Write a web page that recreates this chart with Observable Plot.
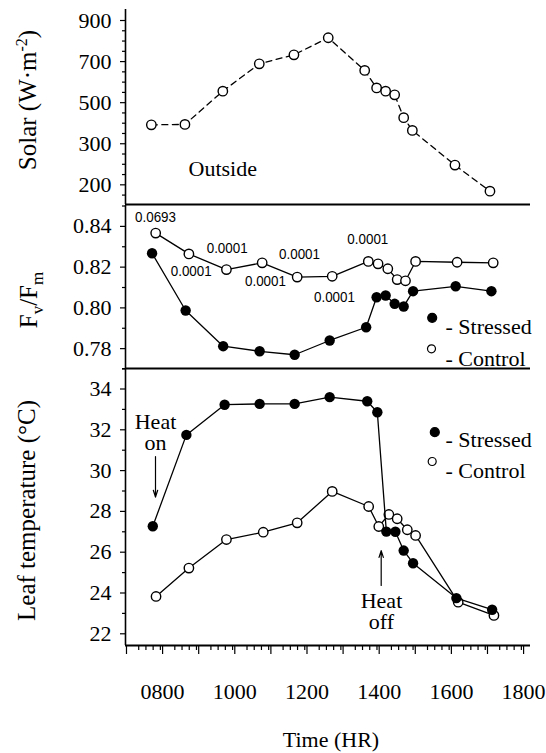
<!DOCTYPE html>
<html><head><meta charset="utf-8">
<script src="https://cdn.jsdelivr.net/npm/d3@7"></script>
<script src="https://cdn.jsdelivr.net/npm/@observablehq/plot@0.6"></script>
<style>
html,body{margin:0;padding:0;background:#fff;color:#000;}
#chart svg{display:block;}
#xtitle{font:22px "Liberation Serif";height:26px;line-height:26px;text-align:center;padding-left:116px;width:430px;}
</style>
</head><body><div id="chart"></div>
<script>
// ---------- data (time in decimal hours) ----------
const solarTime  = [7.55, 8.48, 9.53, 10.54, 11.50, 12.45, 13.46, 13.79, 14.04, 14.29, 14.54, 14.78, 15.96, 16.93];
const solarValue = [392, 394, 556, 689, 733, 816, 657, 572, 556, 538, 427, 365, 196, 69];
const solarTicks = [900, 700, 500, 300, 100];
const solarTickLabels = ["900", "700", "500", "300", "200"];

const fvTimeStressed = [7.57, 8.50, 9.54, 10.55, 11.52, 12.49, 13.50, 13.79, 14.04, 14.29, 14.54, 14.80, 15.98, 16.97];
const fvStressed     = [0.8268, 0.7987, 0.7812, 0.7787, 0.7770, 0.7840, 0.7905, 0.8052, 0.8061, 0.8020, 0.8007, 0.8082, 0.8106, 0.8082];
const fvTimeControl  = [7.67, 8.59, 9.63, 10.62, 11.59, 12.56, 13.56, 13.83, 14.10, 14.36, 14.59, 14.87, 16.02, 17.02];
const fvControl      = [0.8367, 0.8265, 0.8188, 0.8221, 0.8151, 0.8155, 0.8228, 0.8216, 0.8192, 0.8139, 0.8133, 0.8228, 0.8224, 0.8221];
const fvTicks = [0.78, 0.80, 0.82, 0.84];
const fvTickLabels = ["0.78", "0.80", "0.82", "0.84"];

const pTime  = [7.665, 8.654, 9.651, 10.712, 11.654, 12.623, 13.546];
const pLevel = [0.8445, 0.8180, 0.8293, 0.8129, 0.8265, 0.8052, 0.8339];
const pLabel = ["0.0693", "0.0001", "0.0001", "0.0001", "0.0001", "0.0001", "0.0001"];

const leafTimeStressed = [7.59, 8.52, 9.58, 10.55, 11.52, 12.49, 13.53, 13.81, 14.06, 14.31, 14.54, 14.80, 16.00, 16.99];
const leafStressed     = [27.27, 31.75, 33.23, 33.27, 33.27, 33.60, 33.40, 32.86, 27.01, 27.00, 26.08, 25.46, 23.75, 23.18];
const leafTimeControl  = [7.68, 8.59, 9.63, 10.65, 11.59, 12.56, 13.57, 13.85, 14.13, 14.36, 14.64, 14.87, 16.05, 17.04];
const leafControl      = [23.83, 25.22, 26.62, 26.98, 27.44, 28.98, 28.24, 27.26, 27.85, 27.64, 27.10, 26.82, 23.55, 22.90];
const leafTicks = [22, 24, 26, 28, 30, 32, 34];
const leafTickLabels = ["22", "24", "26", "28", "30", "32", "34"];

const xTicks = [7, 8, 9, 10, 11, 12, 13, 14, 15, 16, 17, 18];
const xTickLabels = ["", "0800", "", "1000", "", "1200", "", "1400", "", "1600", "", "1800"];
const xTitle = "Time (HR)";

const heatLabels = ["Heat\non", "Heat\noff"];
const heatLabelTime = [7.665, 13.925];
const heatLabelLevel = [31.87, 23.08];
const heatArrowTime = [7.665, 13.917];
const heatArrowFrom = [30.69, 24.37];
const heatArrowTo   = [28.70, 26.08];

const legendLabels = ["- Stressed", "- Control"];

// ---------- layout ----------
const serifFont = "Liberation Serif";
const sansFont = "sans-serif";
const W = 546, ML = 125, MR = 16;
const xDomain = [6.834, 18.053];
const ink = "#000";
const FS = 22;

const zip = (xs, ys) => xs.map((x, i) => ({x, y: ys[i]}));
const solar = zip(solarTime, solarValue);
const fvS = zip(fvTimeStressed, fvStressed), fvC = zip(fvTimeControl, fvControl);
const lfS = zip(leafTimeStressed, leafStressed), lfC = zip(leafTimeControl, leafControl);
const pvals = pTime.map((x, i) => ({x, y: pLevel[i], t: pLabel[i]}));
const heatTxt = heatLabels.map((t, i) => ({t, x: heatLabelTime[i], y: heatLabelLevel[i]}));
const heatArr = heatArrowTime.map((x, i) => ({x, y1: heatArrowFrom[i], y2: heatArrowTo[i]}));

function rangeStep(a, b, s) { const out = []; for (let v = a; v <= b + 1e-9; v += s) out.push(+v.toFixed(4)); return out; }

function yAxes(major, labels, minor) {
  return [
    Plot.axisY({ticks: minor, tickSize: 3, tickFormat: () => "", label: null, stroke: ink, strokeWidth: 1.2}),
    Plot.axisY({ticks: major, tickSize: 5, tickPadding: 9, label: null, stroke: ink, strokeWidth: 1.2,
      fontSize: FS, fontFamily: serifFont, fill: ink,
      tickFormat: d => labels[major.findIndex(m => Math.abs(m - d) < 1e-9)]})
  ];
}
function frameLines(yMin) {
  return [
    Plot.ruleX([xDomain[0]], {stroke: ink, strokeWidth: 1.6}),
    Plot.ruleY([yMin], {stroke: ink, strokeWidth: 1.8})
  ];
}
function yLabel(text, dx, dy) {
  return Plot.text([text], {text: d => d, frameAnchor: "left", rotate: -90, dx, dy,
    fontSize: 25, fontFamily: serifFont, fill: ink, textAnchor: "middle"});
}
function legend(dots) {
  const marks = [];
  dots.forEach((d, i) => {
    marks.push(Plot.dot([0], {frameAnchor: "top-right", dx: d.dx, dy: d.dy, r: d.r,
      fill: i === 0 ? ink : "white", stroke: ink, strokeWidth: 1.2}));
    marks.push(Plot.text([legendLabels[i]], {text: t => t, frameAnchor: "top-right", dx: -85, dy: d.ty,
      textAnchor: "start", fontSize: FS, fontFamily: serifFont, fill: ink}));
  });
  return marks;
}
const baseStyle = {background: "white", color: ink, fontFamily: serifFont, fontSize: FS + "px", overflow: "visible"};

// ---------- top: solar ----------
const solarY = [4.2, 953.6];
const topPlot = Plot.plot({
  width: W, height: 205, marginLeft: ML, marginRight: MR, marginTop: 9, marginBottom: 1,
  style: baseStyle,
  x: {domain: xDomain, axis: null},
  y: {domain: solarY, axis: null},
  marks: [
    ...frameLines(solarY[0]),
    ...yAxes(solarTicks, solarTickLabels, rangeStep(50, 850, 50).filter(v => !solarTicks.includes(v))),
    Plot.line(solar, {x: "x", y: "y", stroke: ink, strokeWidth: 1.3, strokeDasharray: "6,4.5"}),
    Plot.dot(solar, {x: "x", y: "y", r: 4.7, fill: "white", stroke: ink, strokeWidth: 1.4}),
    Plot.text(["Outside"], {text: d => d, frameAnchor: "bottom-left", dx: 63, dy: -29, fontSize: FS, fontFamily: serifFont, fill: ink}),
    yLabel("Solar (W·m-2)", -98, -7)
  ]
});

// ---------- middle: Fv/Fm ----------
const fvY = [0.77025, 0.85025];
const midPlot = Plot.plot({
  width: W, height: 164, marginLeft: ML, marginRight: MR, marginTop: 0, marginBottom: 1,
  style: baseStyle,
  x: {domain: xDomain, axis: null},
  y: {domain: fvY, axis: null},
  marks: [
    ...frameLines(fvY[0]),
    ...yAxes(fvTicks, fvTickLabels, [0.77, 0.79, 0.81, 0.83, 0.85]),
    Plot.line(fvC, {x: "x", y: "y", stroke: ink, strokeWidth: 1.3}),
    Plot.dot(fvC, {x: "x", y: "y", r: 4.7, fill: "white", stroke: ink, strokeWidth: 1.4}),
    Plot.line(fvS, {x: "x", y: "y", stroke: ink, strokeWidth: 1.3}),
    Plot.dot(fvS, {x: "x", y: "y", r: 5.2, fill: ink}),
    Plot.text(pvals, {x: "x", y: "y", text: "t", fontSize: 15, fontFamily: sansFont, fill: ink}),
    ...legend([{dx: -98.3, dy: 112.3, r: 4.5, ty: 113}, {dx: -99, dy: 143.3, r: 4, ty: 144.7}]),
    yLabel("Fv/Fm", -97, 13)
  ]
});

// ---------- bottom: leaf temperature ----------
const lfY = [21.426, 34.956];
const botPlot = Plot.plot({
  width: W, height: 358, marginLeft: ML, marginRight: MR, marginTop: 0, marginBottom: 82,
  style: baseStyle,
  x: {domain: xDomain, axis: null},
  y: {domain: lfY, axis: null},
  marks: [
    ...frameLines(lfY[0]),
    ...yAxes(leafTicks, leafTickLabels, [23, 25, 27, 29, 31, 33, 35]),
    Plot.axisX({ticks: rangeStep(7, 18, 0.2).filter(v => Math.abs(v - Math.round(v)) > 1e-6), tickSize: 5,
      tickFormat: () => "", label: null, stroke: ink, strokeWidth: 1.2}),
    Plot.axisX({ticks: xTicks, tickSize: 9, tickPadding: 29, label: null, stroke: ink, strokeWidth: 1.2,
      fontSize: FS, fontFamily: serifFont, fill: ink, dx: -5,
      tickFormat: d => xTickLabels[xTicks.indexOf(d)]}),
    Plot.line(lfC, {x: "x", y: "y", stroke: ink, strokeWidth: 1.3}),
    Plot.dot(lfC, {x: "x", y: "y", r: 4.7, fill: "white", stroke: ink, strokeWidth: 1.4}),
    Plot.line(lfS, {x: "x", y: "y", stroke: ink, strokeWidth: 1.3}),
    Plot.dot(lfS, {x: "x", y: "y", r: 5.2, fill: ink}),
    Plot.arrow(heatArr, {x1: "x", x2: "x", y1: "y1", y2: "y2", stroke: ink, strokeWidth: 1.2, headLength: 9, headAngle: 35}),
    Plot.text(heatTxt, {x: "x", y: "y", text: "t", fontSize: FS, fontFamily: serifFont, fill: ink, lineHeight: 0.95}),
    ...legend([{dx: -95.7, dy: 62.7, r: 4.5, ty: 62.3}, {dx: -98.3, dy: 92, r: 4, ty: 93.3}]),
    yLabel("Leaf temperature (°C)", -99, 3)
  ]
});

// ---------- rich text for labels with sub/superscripts ----------
const NS = "http://www.w3.org/2000/svg";
function rich(svg, match, parts) {
  d3.select(svg).selectAll("text").each(function() {
    if (this.textContent !== match) return;
    this.textContent = "";
    for (const p of parts) {
      const ts = document.createElementNS(NS, "tspan");
      ts.textContent = p.t;
      if (p.dy) ts.setAttribute("dy", p.dy);
      if (p.size) ts.setAttribute("font-size", p.size);
      this.appendChild(ts);
    }
  });
}
rich(topPlot, "Solar (W·m-2)", [{t: "Solar (W·m"}, {t: "-2", dy: -9, size: 16}, {t: ")", dy: 9}]);
rich(midPlot, "Fv/Fm", [{t: "F"}, {t: "v", dy: 6, size: 17}, {t: "/F", dy: -6}, {t: "m", dy: 6, size: 17}]);
// condensed look for the p-value labels
d3.select(midPlot).selectAll("text").filter(function() { return pLabel.includes(this.textContent); })
  .attr("textLength", 41).attr("lengthAdjust", "spacingAndGlyphs");

const root = document.getElementById("chart");
root.append(topPlot, midPlot, botPlot);
const cap = document.createElement("div");
cap.id = "xtitle";
cap.textContent = xTitle;
root.append(cap);
</script>
</body></html>
